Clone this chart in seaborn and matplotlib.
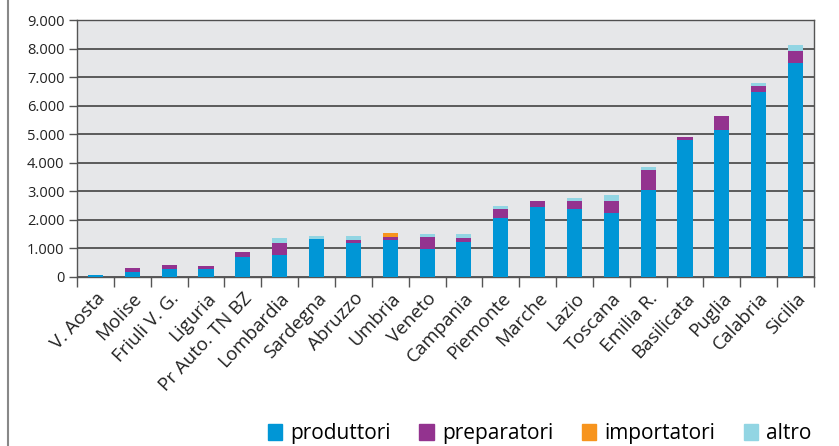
import numpy as np
import pandas as pd
import matplotlib.pyplot as plt
import matplotlib.lines as mlines
import matplotlib.patches as mpatches
import seaborn as sns

regioni = ["V. Aosta", "Molise", "Friuli V. G.", "Liguria", "Pr Auto. TN BZ",
           "Lombardia", "Sardegna", "Abruzzo", "Umbria", "Veneto", "Campania",
           "Piemonte", "Marche", "Lazio", "Toscana", "Emilia R.", "Basilicata",
           "Puglia", "Calabria", "Sicilia"]
produttori = [80, 160, 265, 265, 686, 780, 1340, 1200, 1305, 980, 1235,
              2050, 2460, 2390, 2225, 3030, 4815, 5165, 6490, 7495]
preparatori = [0, 140, 140, 105, 200, 420, 0, 105, 105, 430, 140,
               340, 210, 280, 445, 725, 95, 475, 200, 420]
importatori = [0, 0, 0, 0, 0, 0, 0, 0, 140, 0, 0,
               0, 0, 0, 0, 0, 0, 0, 0, 0]
altro = [0, 0, 0, 0, 0, 150, 105, 140, 0, 105, 140,
         105, 0, 105, 210, 105, 0, 0, 105, 210]

serie = ["produttori", "preparatori", "importatori", "altro"]
colori = ["#0096D6", "#93338F", "#F7941D", "#92D5E3"]

df = pd.DataFrame({"regione": regioni, "produttori": produttori,
                   "preparatori": preparatori, "importatori": importatori,
                   "altro": altro})
cum = df[serie].cumsum(axis=1)

plt.rcParams['font.family'] = ['Open Sans', 'DejaVu Sans']
fig = plt.figure(figsize=(8.39, 4.46), dpi=100)
ax = fig.add_axes([0.0918, 0.379, 0.8784, 0.576])
ax.set_facecolor("#E6E7E9")

# stacked bars: draw the cumulative totals from the top down
for s, c in reversed(list(zip(serie, colori))):
    sns.barplot(ax=ax, x=df["regione"], y=cum[s], color=c, width=0.41,
                saturation=1, edgecolor="none", linewidth=0, zorder=3)

ax.set_ylim(0, 9000)
ax.set_xlim(-0.5, len(regioni) - 0.5)
ax.set_yticks(range(0, 9001, 1000))
ax.set_yticklabels([f"{v:,}".replace(",", ".") for v in range(0, 9001, 1000)],
                   fontsize=10.5, color="#222222")
ax.grid(axis="y", color="#505050", linewidth=1.3, zorder=4)
ax.set_axisbelow(False)
ax.tick_params(axis="y", length=6, width=1, color="#555555", pad=3)

ax.set_xticks(np.arange(len(regioni)))
ax.set_xticklabels(regioni, rotation=47, ha="right", rotation_mode="anchor",
                   fontsize=13.5, color="#222222")
ax.tick_params(axis="x", length=0, pad=9)
ax.set_xticks(np.arange(-0.5, len(regioni), 1), minor=True)
ax.tick_params(axis="x", which="minor", length=7, width=1, color="#555555")
ax.set_xlabel("")
ax.set_ylabel("")

for side in ["top", "right", "left", "bottom"]:
    ax.spines[side].set_color("#555555")
    ax.spines[side].set_linewidth(1)

handles = [mpatches.Patch(color=c, label=s) for s, c in zip(serie, colori)]
fig.legend(handles=handles, loc="lower right", bbox_to_anchor=(0.99, -0.038),
           ncol=4, frameon=False, fontsize=15, handlelength=0.7,
           handleheight=0.85, handletextpad=0.4, columnspacing=1.35)

fig.add_artist(mlines.Line2D([0.0095, 0.0095], [0, 1], color="#888888", linewidth=1.5))

fig.savefig("out.png", dpi=100)
